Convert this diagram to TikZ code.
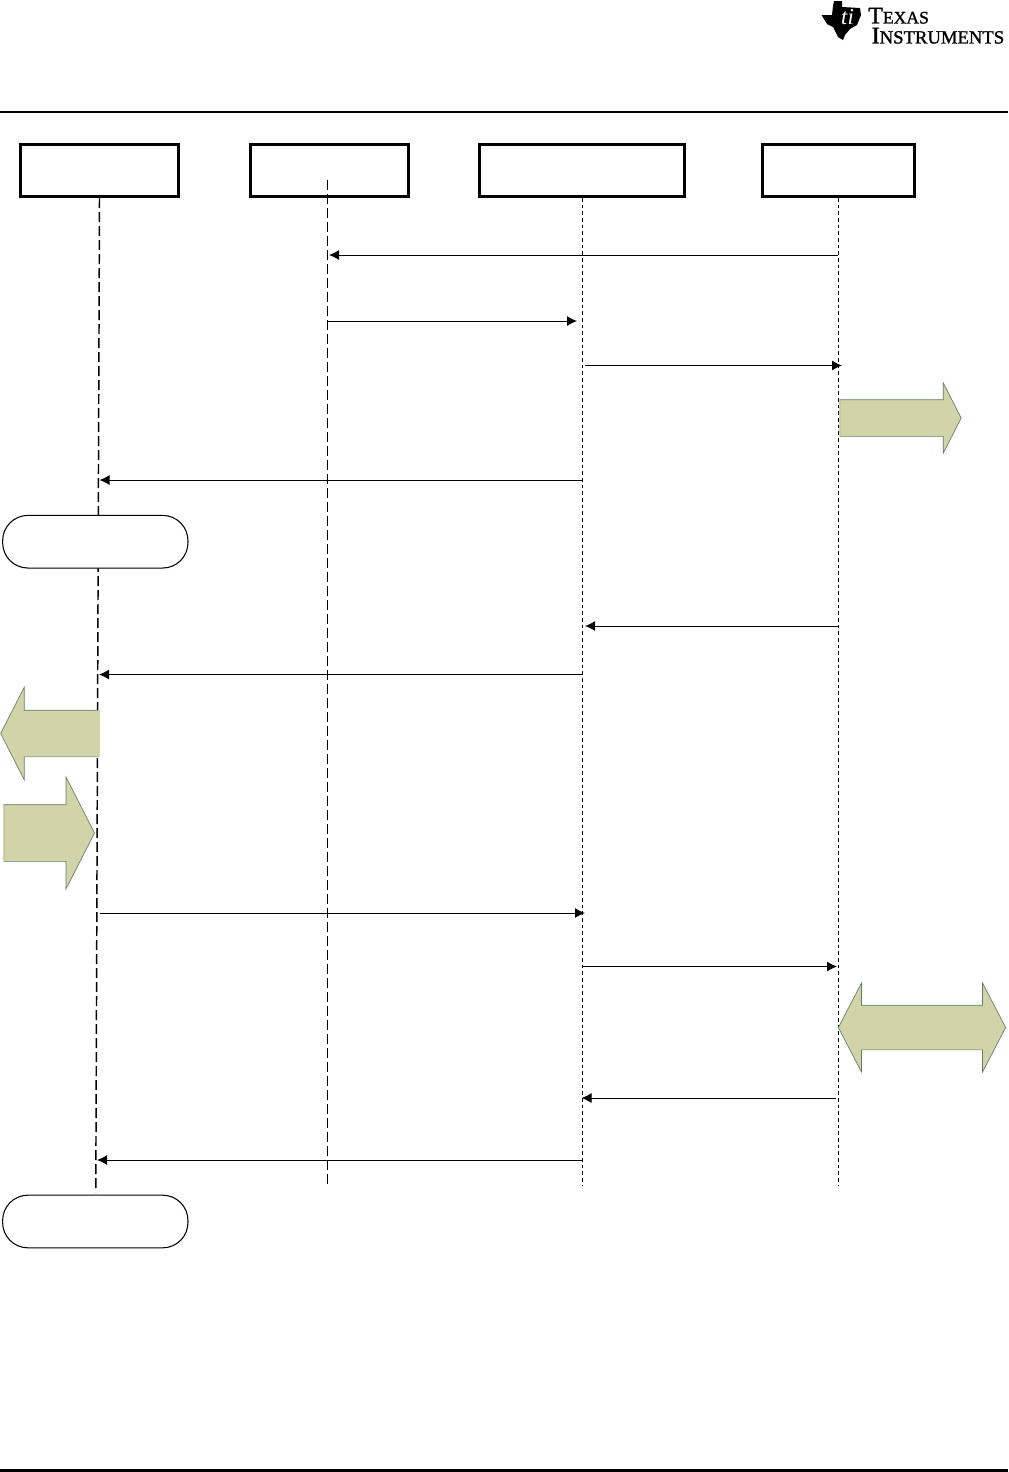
\documentclass[tikz,border=0pt]{standalone}
\usepackage{fontspec}
\usetikzlibrary{arrows.meta,shapes.arrows}
\newfontfamily\logofont[AutoFakeBold=1.3]{Liberation Serif}
\definecolor{flowfill}{HTML}{D2D3A9}
\definecolor{flowedge}{HTML}{5F7F62}
\begin{document}
\begin{tikzpicture}[
        x=0.75pt, y=-0.75pt,
        actor/.style={rectangle, draw, line width=1.9pt, minimum height=39pt, inner sep=0pt},
        status/.style={rectangle, draw, fill=white, line width=0.8pt, rounded corners=19pt, minimum width=139pt, minimum height=39.5pt, inner sep=0pt},
        lifeA/.style={line width=1.1pt, dash pattern=on 7.5pt off 3pt},
        lifeB/.style={line width=0.75pt, dash pattern=on 7.5pt off 3pt},
        lifeC/.style={line width=0.75pt, dash pattern=on 2.8pt off 2.2pt},
        msg/.style={-{Latex[length=7.5pt,width=7.5pt]}, line width=0.75pt},
        flow/.style={draw=flowedge, fill=flowfill, line width=0.5pt, inner sep=0pt, text height=#1, text depth=0pt},
        flowR/.style={single arrow, flow=#1, anchor=tail, single arrow tip angle=126},
        flowL/.style={flowR=#1, shape border rotate=180},
        tailfix/.style={flowfill, line width=0.9pt}
    ]
        \useasboundingbox (0, 0) rectangle (1008, 1472);

        % Rules
        \coordinate (ruleTa) at (0, 112);
        \coordinate (ruleTb) at (1008, 112);
        \coordinate (ruleBa) at (0, 1470.5);
        \coordinate (ruleBb) at (1008, 1470.5);
        \draw[line width=2.2pt] (ruleTa) -- (ruleTb);
        \draw[line width=2.2pt] (ruleBa) -- (ruleBb);

        % Logo
        \fill (821.5, 15) -- (832, 15) -- (833, 6) -- (834, 1) -- (842, 1) -- (842, 7) -- (860, 8)
            -- (861, 15) -- (857, 25) -- (850, 29) -- (845, 35) -- (843, 40) -- (838, 37)
            -- (833, 27) -- (827, 24) -- cycle;
        \node[inner sep=0pt, text=white, font=\logofont\bfseries\itshape\fontsize{17}{17}\selectfont] (logoMark) at (847.5, 17) {ti};
        \node[anchor=north west, inner sep=0pt, align=left, font=\logofont\bfseries] (logoText) at (868, 7.5)
            {\fontsize{18}{15}\selectfont T\fontsize{13.2}{15}\selectfont EXAS\\[3pt]
             \hspace{2.6pt}\fontsize{18}{15}\selectfont I\fontsize{14}{15}\selectfont NSTRUMENTS};

        % Actors
        \node[actor, minimum width=118.5pt] (A) at (99.6, 170.7) {};
        \node[actor, minimum width=118.5pt] (B) at (329.6, 170.7) {};
        \node[actor, minimum width=153.5pt] (C) at (582, 170.7) {};
        \node[actor, minimum width=114pt] (D) at (838.5, 170.7) {};

        % Lifelines
        \coordinate (Atop) at (99.5, 198);
        \coordinate (Aend) at (95.8, 1192);
        \coordinate (Btop) at (327, 180);
        \coordinate (Bend) at (327, 1187);
        \coordinate (Ctop) at (582.5, 198);
        \coordinate (Cend) at (582.5, 1185);
        \coordinate (Dtop) at (838.5, 198);
        \coordinate (Dend) at (838.5, 1185);
        \draw[lifeA] (Atop) -- (Aend);
        \draw[lifeB] (Btop) -- (Bend);
        \draw[lifeC] (Ctop) -- (Cend);
        \draw[lifeC] (Dtop) -- (Dend);

        % Message ends
        \coordinate (m1a) at (838, 255);   \coordinate (m1b) at (329, 255);
        \coordinate (m2a) at (328, 321);   \coordinate (m2b) at (577, 321);
        \coordinate (m3a) at (585, 365.5); \coordinate (m3b) at (842, 365.5);
        \coordinate (m4a) at (582, 480);   \coordinate (m4b) at (99.5, 480);
        \coordinate (m5a) at (838, 626);   \coordinate (m5b) at (585, 626);
        \coordinate (m6a) at (582, 674.5); \coordinate (m6b) at (99, 674.5);
        \coordinate (m7a) at (99.5, 913);  \coordinate (m7b) at (585, 913);
        \coordinate (m8a) at (582, 966.5); \coordinate (m8b) at (837, 966.5);
        \coordinate (m9a) at (836, 1098);  \coordinate (m9b) at (581.5, 1098);
        \coordinate (m10a) at (582, 1160); \coordinate (m10b) at (97, 1160);

        % Messages
        \draw[msg] (m1a) -- (m1b);
        \draw[msg] (m2a) -- (m2b);
        \draw[msg] (m3a) -- (m3b);
        \draw[msg] (m4a) -- (m4b);
        \draw[msg] (m5a) -- (m5b);
        \draw[msg] (m6a) -- (m6b);
        \draw[msg] (m7a) -- (m7b);
        \draw[msg] (m8a) -- (m8b);
        \draw[msg] (m9a) -- (m9b);
        \draw[msg] (m10a) -- (m10b);

        % Status pills
        \node[status] (pillA) at (95.3, 541.7) {};
        \node[status] (pillB) at (95.3, 1221.5) {};

        % Block arrows
        \node[flowR=27pt, single arrow head extend=12.7pt, minimum height=91pt] (outR) at (839.5, 418) {};
        \node[flowL=34.5pt, single arrow head extend=17.2pt, minimum height=73.5pt] (outL) at (99, 733.5) {};
        \node[flowR=42pt, single arrow head extend=20.7pt, minimum height=68pt] (inR) at (3.5, 833) {};
        \node[double arrow, flow=33pt, double arrow head extend=16.7pt, minimum height=125.5pt, double arrow tip angle=125] (both) at (922, 1027.5) {};

        % Open tail ends
        \draw[tailfix] (outR.before tail) -- (outR.after tail);
        \draw[tailfix] (outL.before tail) -- (outL.after tail);
        \draw[tailfix] (inR.before tail) -- (inR.after tail);
    \end{tikzpicture}
\end{document}
